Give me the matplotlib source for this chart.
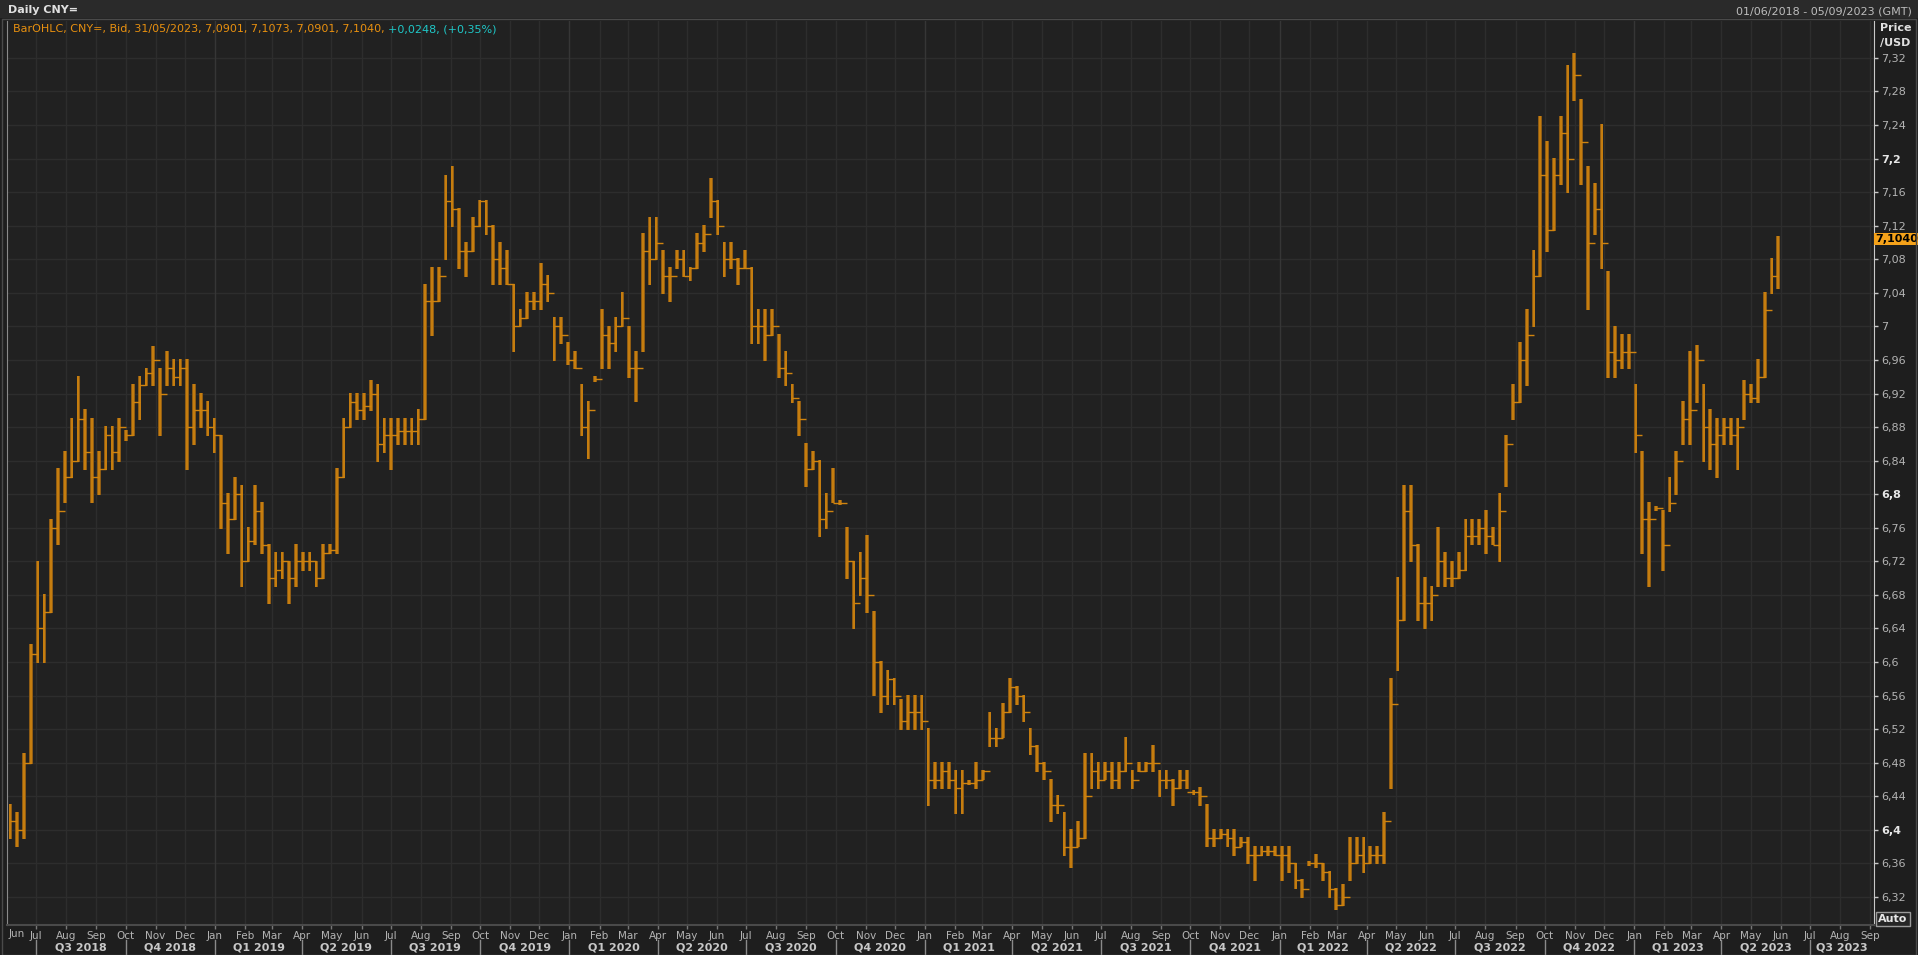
import matplotlib
matplotlib.use('Agg')
import matplotlib.pyplot as plt
import matplotlib.dates as mdates
from matplotlib.patches import Rectangle
import numpy as np
import pandas as pd

# ---------------- data (weekly bars) ----------------
wk_high = [6.43, 6.42, 6.49, 6.62, 6.72, 6.68, 6.77, 6.83, 6.85, 6.89,
           6.94, 6.90, 6.89, 6.85, 6.88, 6.88, 6.89, 6.875, 6.93, 6.94,
           6.95, 6.976, 6.95, 6.97, 6.96, 6.96, 6.96, 6.93, 6.92, 6.91,
           6.89, 6.87, 6.80, 6.82, 6.81, 6.76, 6.81, 6.79, 6.74, 6.73,
           6.73, 6.72, 6.74, 6.73, 6.73, 6.72, 6.74, 6.74, 6.83, 6.89,
           6.92, 6.92, 6.92, 6.935, 6.93, 6.89, 6.89, 6.89, 6.89, 6.89,
           6.90, 7.05, 7.07, 7.07, 7.18, 7.19, 7.14, 7.10, 7.13, 7.15,
           7.15, 7.12, 7.10, 7.09, 7.05, 7.02, 7.04, 7.04, 7.074, 7.06,
           7.01, 7.01, 6.98, 6.97, 6.93, 6.91, 6.94, 7.02, 7.00, 7.01,
           7.04, 7.00, 6.97, 7.11, 7.13, 7.13, 7.09, 7.07, 7.09, 7.09,
           7.07, 7.11, 7.12, 7.176, 7.15, 7.10, 7.10, 7.08, 7.09, 7.07,
           7.02, 7.02, 7.02, 6.99, 6.97, 6.93, 6.91, 6.86, 6.85, 6.84,
           6.80, 6.83, 6.792, 6.76, 6.72, 6.73, 6.75, 6.66, 6.60, 6.59,
           6.58, 6.555, 6.56, 6.56, 6.56, 6.52, 6.48, 6.48, 6.48, 6.47,
           6.47, 6.458, 6.48, 6.47, 6.54, 6.52, 6.55, 6.58, 6.57, 6.56,
           6.52, 6.50, 6.48, 6.46, 6.44, 6.42, 6.40, 6.41, 6.49, 6.49,
           6.48, 6.48, 6.48, 6.48, 6.51, 6.47, 6.48, 6.48, 6.50, 6.47,
           6.47, 6.46, 6.47, 6.47, 6.447, 6.45, 6.43, 6.40, 6.40, 6.40,
           6.40, 6.39, 6.39, 6.38, 6.38, 6.38, 6.38, 6.38, 6.38, 6.36,
           6.34, 6.362, 6.37, 6.36, 6.35, 6.33, 6.335, 6.39, 6.39, 6.39,
           6.38, 6.38, 6.42, 6.58, 6.70, 6.81, 6.81, 6.74, 6.70, 6.69,
           6.76, 6.73, 6.72, 6.73, 6.77, 6.77, 6.77, 6.78, 6.76, 6.80,
           6.87, 6.93, 6.98, 7.02, 7.09, 7.25, 7.22, 7.20, 7.25, 7.31,
           7.325, 7.27, 7.19, 7.17, 7.24, 7.065, 7.00, 6.99, 6.99, 6.93,
           6.85, 6.79, 6.785, 6.78, 6.82, 6.85, 6.91, 6.97, 6.977, 6.93,
           6.90, 6.89, 6.89, 6.89, 6.89, 6.935, 6.93, 6.96, 7.04, 7.08,
           7.107]
wk_low = [6.39, 6.38, 6.39, 6.48, 6.60, 6.60, 6.66, 6.74, 6.79, 6.82,
          6.84, 6.83, 6.79, 6.80, 6.83, 6.83, 6.84, 6.865, 6.87, 6.89,
          6.93, 6.93, 6.87, 6.93, 6.93, 6.93, 6.83, 6.86, 6.88, 6.87,
          6.85, 6.76, 6.73, 6.77, 6.69, 6.72, 6.74, 6.73, 6.67, 6.69,
          6.70, 6.67, 6.69, 6.71, 6.71, 6.69, 6.70, 6.73, 6.73, 6.82,
          6.88, 6.89, 6.89, 6.90, 6.84, 6.85, 6.83, 6.86, 6.86, 6.86,
          6.86, 6.89, 6.99, 7.03, 7.08, 7.12, 7.07, 7.06, 7.09, 7.12,
          7.11, 7.05, 7.05, 7.05, 6.97, 7.00, 7.01, 7.02, 7.02, 7.03,
          6.96, 6.98, 6.955, 6.95, 6.87, 6.843, 6.935, 6.95, 6.95, 6.97,
          7.00, 6.94, 6.911, 6.97, 7.05, 7.08, 7.04, 7.03, 7.07, 7.06,
          7.055, 7.07, 7.09, 7.13, 7.11, 7.06, 7.07, 7.05, 7.07, 6.98,
          6.98, 6.96, 6.99, 6.94, 6.93, 6.91, 6.87, 6.81, 6.83, 6.75,
          6.76, 6.79, 6.788, 6.70, 6.64, 6.68, 6.66, 6.56, 6.54, 6.55,
          6.55, 6.52, 6.52, 6.52, 6.52, 6.43, 6.45, 6.45, 6.45, 6.42,
          6.42, 6.454, 6.45, 6.46, 6.50, 6.50, 6.51, 6.54, 6.55, 6.53,
          6.49, 6.47, 6.46, 6.41, 6.42, 6.37, 6.356, 6.38, 6.39, 6.45,
          6.45, 6.46, 6.45, 6.45, 6.47, 6.45, 6.47, 6.47, 6.47, 6.44,
          6.45, 6.43, 6.45, 6.45, 6.443, 6.43, 6.38, 6.38, 6.39, 6.38,
          6.37, 6.38, 6.36, 6.34, 6.37, 6.37, 6.37, 6.34, 6.35, 6.33,
          6.32, 6.358, 6.355, 6.34, 6.32, 6.305, 6.31, 6.34, 6.36, 6.35,
          6.36, 6.36, 6.36, 6.45, 6.59, 6.65, 6.72, 6.65, 6.64, 6.65,
          6.69, 6.69, 6.69, 6.70, 6.71, 6.74, 6.74, 6.73, 6.74, 6.72,
          6.81, 6.89, 6.91, 6.93, 7.00, 7.06, 7.09, 7.115, 7.17, 7.16,
          7.27, 7.17, 7.02, 7.11, 7.07, 6.94, 6.94, 6.95, 6.95, 6.85,
          6.73, 6.69, 6.781, 6.71, 6.78, 6.80, 6.86, 6.86, 6.91, 6.84,
          6.83, 6.82, 6.86, 6.86, 6.83, 6.89, 6.91, 6.91, 6.94, 7.04,
          7.045]
wk_close = [6.41, 6.40, 6.48, 6.61, 6.64, 6.66, 6.76, 6.78, 6.82, 6.84,
            6.89, 6.85, 6.82, 6.83, 6.87, 6.85, 6.88, 6.87, 6.91, 6.93,
            6.945, 6.96, 6.92, 6.95, 6.94, 6.95, 6.88, 6.90, 6.90, 6.88,
            6.87, 6.79, 6.77, 6.80, 6.72, 6.744, 6.78, 6.74, 6.70, 6.71,
            6.72, 6.70, 6.72, 6.72, 6.72, 6.70, 6.73, 6.733, 6.82, 6.88,
            6.91, 6.90, 6.905, 6.92, 6.86, 6.87, 6.87, 6.875, 6.875, 6.875,
            6.89, 7.03, 7.03, 7.06, 7.15, 7.14, 7.09, 7.09, 7.12, 7.149,
            7.12, 7.08, 7.07, 7.05, 7.00, 7.01, 7.03, 7.03, 7.05, 7.04,
            7.00, 6.99, 6.96, 6.95, 6.88, 6.90, 6.937, 6.99, 6.98, 7.00,
            7.01, 6.95, 6.95, 7.09, 7.08, 7.10, 7.06, 7.06, 7.08, 7.06,
            7.07, 7.10, 7.11, 7.15, 7.12, 7.08, 7.08, 7.07, 7.07, 7.00,
            7.00, 6.99, 7.00, 6.95, 6.945, 6.915, 6.89, 6.83, 6.84, 6.77,
            6.78, 6.79, 6.79, 6.72, 6.67, 6.70, 6.68, 6.60, 6.56, 6.58,
            6.56, 6.53, 6.54, 6.54, 6.53, 6.46, 6.46, 6.47, 6.46, 6.45,
            6.456, 6.456, 6.46, 6.47, 6.51, 6.51, 6.54, 6.57, 6.56, 6.54,
            6.50, 6.48, 6.47, 6.43, 6.43, 6.38, 6.38, 6.39, 6.44, 6.47,
            6.46, 6.47, 6.46, 6.47, 6.48, 6.46, 6.47, 6.48, 6.48, 6.46,
            6.46, 6.45, 6.46, 6.445, 6.445, 6.44, 6.39, 6.39, 6.395, 6.39,
            6.38, 6.385, 6.37, 6.37, 6.375, 6.375, 6.37, 6.37, 6.36, 6.34,
            6.33, 6.36, 6.36, 6.35, 6.33, 6.31, 6.32, 6.36, 6.37, 6.36,
            6.37, 6.37, 6.41, 6.55, 6.65, 6.78, 6.74, 6.67, 6.67, 6.68,
            6.72, 6.70, 6.70, 6.71, 6.75, 6.75, 6.76, 6.75, 6.74, 6.78,
            6.86, 6.91, 6.96, 6.99, 7.06, 7.18, 7.115, 7.18, 7.23, 7.20,
            7.30, 7.22, 7.10, 7.14, 7.10, 6.97, 6.96, 6.97, 6.97, 6.87,
            6.77, 6.77, 6.783, 6.74, 6.79, 6.84, 6.89, 6.90, 6.96, 6.88,
            6.86, 6.87, 6.88, 6.87, 6.88, 6.92, 6.915, 6.94, 7.02, 7.06,
            7.104]
first_week = '2018-06-01'
range_start, range_end = '2018-06-01', '2023-09-05'
last_price_label = '7,1040'
last_price = 7.1040
y_ticks = [6.32, 6.36, 6.40, 6.44, 6.48, 6.52, 6.56, 6.60, 6.64, 6.68, 6.72,
           6.76, 6.80, 6.84, 6.88, 6.92, 6.96, 7.00, 7.04, 7.08, 7.12, 7.16,
           7.20, 7.24, 7.28, 7.32]
bold_ticks = [6.40, 6.80, 7.20]

# ---------------- style ----------------
BG = '#1e1e1e'
PLOT_BG = '#212121'
GRID = '#2d2d2d'
GRID_YEAR = '#363636'
ORANGE = '#d0840f'
ORANGE_DARK = '#8f5c14'
plt.rcParams['font.family'] = ['DejaVu Sans']

W, H = 1918, 955
fig = plt.figure(figsize=(W / 100, H / 100), dpi=100, facecolor=BG)
L, R, B, T = 7, 1874, 925, 21
ax = fig.add_axes([L / W, (H - B) / H, (R - L) / W, (B - T) / H])
ax.set_facecolor(PLOT_BG)
AX_H = B - T

x0 = mdates.date2num(pd.Timestamp(range_start))
x1 = mdates.date2num(pd.Timestamp(range_end))
ax.set_xlim(x0, x1)
ax.set_ylim(6.2866, 7.364)

# grid
for v in y_ticks:
    ax.axhline(v, color=GRID, lw=1, zorder=0)
months = pd.date_range('2018-07-01', '2023-09-01', freq='MS')
for m in months:
    ax.axvline(mdates.date2num(m), color=GRID_YEAR if m.month == 1 else GRID,
               lw=1, zorder=0)

# bars
week_start = pd.date_range(first_week, periods=len(wk_close), freq='7D')
xc = mdates.date2num(week_start) + 3.5
hi = np.array(wk_high)
lo = np.array(wk_low)
ax.bar(xc, hi - lo + 0.002, bottom=lo - 0.001, width=3.8, color=ORANGE_DARK,
       linewidth=0, zorder=2)
ax.vlines(xc, lo - 0.001, hi + 0.001, color=ORANGE, lw=1.2, zorder=3)
ax.hlines(wk_close[:-1], xc[:-1], xc[1:], color=ORANGE, lw=1.0, zorder=3)

# spines
ax.spines['top'].set_visible(False)
ax.spines['left'].set_color('#8a8a8a')
ax.spines['right'].set_color('#c8c8c8')
ax.spines['bottom'].set_color('#4a4a4a')
ax.spines['bottom'].set_linewidth(1.5)

# y axis on right
ax.yaxis.tick_right()
ax.set_yticks(y_ticks)
def fmt(v):
    s = ('%.2f' % v).rstrip('0').rstrip('.')
    return s.replace('.', ',')
ax.set_yticklabels([fmt(v) for v in y_ticks])
ax.tick_params(axis='y', length=3, width=1, color='#c8c8c8', pad=2,
               labelsize=8, labelcolor='#b4b4b4')
for lab, v in zip(ax.get_yticklabels(), y_ticks):
    if any(abs(v - b) < 1e-9 for b in bold_ticks):
        lab.set_fontweight('bold')
        lab.set_color('#e6e6e6')

# x axis: months
ax.set_xticks([mdates.date2num(m) for m in months])
ax.set_xticklabels([m.strftime('%b') for m in months])
ax.tick_params(axis='x', length=3, width=1, color='#777777', pad=1,
               labelsize=7.5, labelcolor='#b4b4b4', direction='out')
ax.text(x0 + 2, -4 / AX_H, 'Jun', transform=ax.get_xaxis_transform(),
        ha='left', va='top', fontsize=7.5, color='#b4b4b4')

# quarter labels
q_starts = pd.date_range('2018-07-01', '2023-07-01', freq='QS')
q_bounds = list(mdates.date2num(q_starts)) + [x1]
for i, q in enumerate(q_starts):
    mid = (q_bounds[i] + q_bounds[i + 1]) / 2
    ax.text(mid, -(947 - B) / AX_H, 'Q%d %d' % ((q.month - 1) // 3 + 1, q.year),
            transform=ax.get_xaxis_transform(), ha='center', va='center',
            fontsize=8, fontweight='bold', color='#c8c8c8', clip_on=False)
for qb in q_bounds[:-1]:
    ax.plot([qb, qb], [-(940 - B) / AX_H, -(955 - B) / AX_H],
            transform=ax.get_xaxis_transform(),
            color='#8a8a8a', lw=1, clip_on=False)

# last price marker
ax.text(1.0006, last_price, last_price_label,
        transform=ax.get_yaxis_transform(), ha='left', va='center',
        fontsize=8, fontweight='bold', color='#000000', zorder=10,
        bbox=dict(boxstyle='square,pad=0.12', fc='#f5a21a', ec='none'),
        clip_on=False)

# header
fig.patches.append(Rectangle((0, 1 - 18 / H), 1, 18 / H, transform=fig.transFigure,
                             facecolor='#2a2a2a', edgecolor='none', zorder=-1))
fig.text(8 / W, 1 - 10 / H, 'Daily CNY=', ha='left', va='center', fontsize=8,
         fontweight='bold', color='#e0e0e0')
fig.text(1912 / W, 1 - 11 / H, '01/06/2018 - 05/09/2023 (GMT)', ha='right',
         va='center', fontsize=8, color='#bdbdbd')
fig.text(1880 / W, 1 - 28 / H, 'Price', ha='left', va='center', fontsize=8,
         fontweight='bold', color='#e0e0e0')
fig.text(1880 / W, 1 - 43 / H, '/USD', ha='left', va='center', fontsize=8,
         fontweight='bold', color='#e0e0e0')

t1 = fig.text(13 / W, 1 - 29 / H,
              'BarOHLC, CNY=, Bid, 31/05/2023, 7,0901, 7,1073, 7,0901, 7,1040, ',
              ha='left', va='center', fontsize=8, color='#e8900f')
fig.canvas.draw()
bb = t1.get_window_extent(renderer=fig.canvas.get_renderer())
fig.text(bb.x1 / W, 1 - 29 / H, '+0,0248, (+0,35%)', ha='left', va='center',
         fontsize=8, color='#1fc8c8')

# Auto button
fig.text(1893 / W, 1 - 919 / H, 'Auto', ha='center', va='center', fontsize=8,
         fontweight='bold', color='#e6e6e6',
         bbox=dict(boxstyle='square,pad=0.2', fc='#262626', ec='#9a9a9a', lw=1))

# outer frame
fig.patches.append(Rectangle((2 / W, 0), 1 - 4 / W, 1 - 19 / H, transform=fig.transFigure,
                             facecolor='none', edgecolor='#4a4a4a', lw=1))

fig.savefig('out.png', dpi=100, facecolor=BG)
